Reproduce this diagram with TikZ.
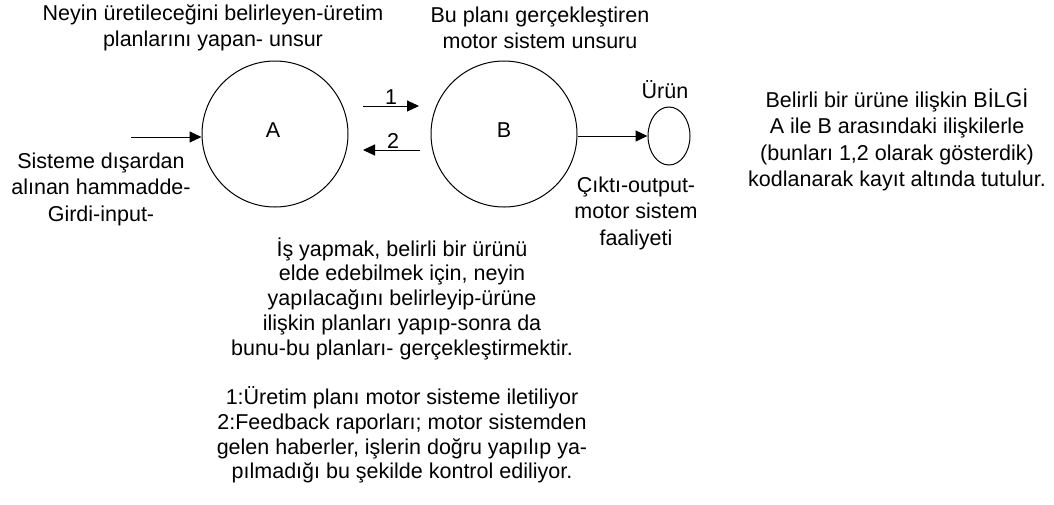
\documentclass[tikz,border=0pt]{standalone}
\usepackage{fontspec}
\setmainfont{Liberation Sans}
\usetikzlibrary{arrows.meta,shapes.geometric}
\begin{document}
\begin{tikzpicture}[x=1pt,y=-1pt,
  txt/.style={font=\fontsize{21.5}{26.5}\selectfont, align=center, inner sep=0pt},
  txtlow/.style={font=\fontsize{21.5}{24.8}\selectfont, align=center, inner sep=0pt},
  circ/.style={draw, circle, line width=1pt, minimum size=146pt, inner sep=0pt},
  arr/.style={line width=1pt, -{Triangle[length=12pt,width=11pt]}}]
\useasboundingbox[fill=white] (0,0) rectangle (1054,504);
% circles
\node[circ] (A) at (275,134) {};
\node[circ] (B) at (504,134) {};
\node[draw, ellipse, line width=1pt, minimum width=42pt, minimum height=58pt, inner sep=0pt] (P) at (669,136) {};
\node[txt] (Alab) at (273,130) {A};
\node[txt] (Blab) at (504,130) {B};
% arrows
\coordinate (in) at (131,137);
\draw[arr] (in) -- (in -| A.west);
\coordinate (o1) at (363,106);
\coordinate (t1) at (419,106);
\draw[arr] (o1) -- (t1);
\node[txt] (n1) at (391,97) {1};
\coordinate (o2) at (420,150);
\coordinate (t2) at (363,150);
\draw[arr] (o2) -- (t2);
\node[txt] (n2) at (393,141) {2};
\draw[arr] (B.east |- P.west) -- (P.west);
% texts
\node[txt] (tA) at (213,28) {Neyin üretileceğini belirleyen-üretim\\planlarını yapan- unsur};
\node[txt] (tB) at (540,28) {Bu planı gerçekleştiren\\motor sistem unsuru};
\node[txt] (tP) at (665,90) {Ürün};
\node[txt] (tIn) at (101,189) {Sisteme dışardan\\alınan hammadde-\\Girdi-input-};
\node[txt] (tOut) at (636,213) {Çıktı-output-\\motor sistem\\faaliyeti};
\node[txt] (tR) at (897,140) {Belirli bir ürüne ilişkin BİLGİ\\A ile B arasındaki ilişkilerle\\(bunları 1,2 olarak gösterdik)\\kodlanarak kayıt altında tutulur.};
\node[txtlow] (tD) at (402,298.6) {İş yapmak, belirli bir ürünü\\elde edebilmek için, neyin\\yapılacağını belirleyip-ürüne\\ilişkin planları yapıp-sonra da\\bunu-bu planları- gerçekleştirmektir.};
\node[txtlow] (tN) at (402,435) {1:Üretim planı motor sisteme iletiliyor\\2:Feedback raporları; motor sistemden\\gelen haberler, işlerin doğru yapılıp ya-\\pılmadığı bu şekilde kontrol ediliyor.};
\end{tikzpicture}
\end{document}
